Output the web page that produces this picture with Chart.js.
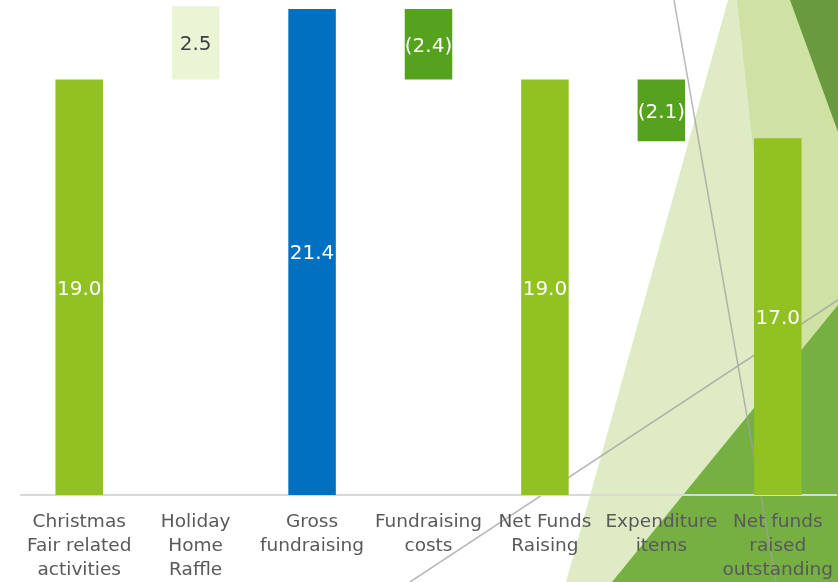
<!DOCTYPE html>
<html>
<head>
<meta charset="utf-8">
<script src="https://cdn.jsdelivr.net/npm/chart.js@4.4.1/dist/chart.umd.min.js"></script>
<style>
  html, body { margin: 0; padding: 0; background: #ffffff; }
  #wrap { width: 838px; height: 582px; }
</style>
</head>
<body>
<div id="wrap"><canvas id="myChart" width="838" height="582"></canvas></div>
<script>
// chart data
const categories = [
  ['Christmas', 'Fair related', 'activities'],
  ['Holiday', 'Home', 'Raffle'],
  ['Gross', 'fundraising'],
  ['Fundraising', 'costs'],
  ['Net Funds', 'Raising'],
  ['Expenditure', 'items'],
  ['Net funds', 'raised', 'outstanding']
];
const values = [19.0, 2.5, 21.4, -2.4, 19.0, -2.1, 17.0];
const barType = ['total', 'increase', 'total', 'decrease', 'total', 'decrease', 'total'];
const valueLabels = ['19.0', '2.5', '21.4', '(2.4)', '19.0', '(2.1)', '17.0'];

const Y_MIN = 4.86;
const Y_MAX = 21.71;

// colours per bar (gross total is blue)
const barColors = ['#92C122', '#EAF5D6', '#0070C0', '#55A21F', '#92C122', '#55A21F', '#92C122'];
const labelColors = ['#ffffff', '#404040', '#ffffff', '#ffffff', '#ffffff', '#ffffff', '#ffffff'];

// build floating ranges from the running total
let running = 0;
const ranges = values.map((v, i) => {
  if (barType[i] === 'total') {
    running = v;
    return [Y_MIN, v];
  }
  const start = running;
  running = running + v;
  return [Math.min(start, running), Math.max(start, running)];
});

// background slide decoration (theme triangles + thin lines)
const slideDecor = {
  id: 'slideDecor',
  beforeDraw(chart) {
    const ctx = chart.ctx;
    const poly = (pts, color) => {
      ctx.beginPath();
      ctx.moveTo(pts[0][0], pts[0][1]);
      for (let i = 1; i < pts.length; i++) ctx.lineTo(pts[i][0], pts[i][1]);
      ctx.closePath();
      ctx.fillStyle = color;
      ctx.fill();
    };
    ctx.save();
    poly([[728, 0], [838, 0], [838, 582], [566, 582]], '#DEEBC5');
    poly([[737, 0], [838, 0], [838, 582], [800, 582]], '#D0E2A3');
    poly([[790, 0], [838, 0], [838, 132]], '#6A9A40');
    poly([[838, 305], [838, 582], [612, 582]], '#76B043');
    ctx.strokeStyle = 'rgba(160,160,160,0.75)';
    ctx.lineWidth = 1.5;
    ctx.beginPath();
    ctx.moveTo(674, 0); ctx.lineTo(776, 582);
    ctx.moveTo(410, 582); ctx.lineTo(838, 300);
    ctx.stroke();
    ctx.restore();
  }
};

// value labels in the middle of each bar
const barLabels = {
  id: 'barLabels',
  afterDatasetsDraw(chart) {
    const ctx = chart.ctx;
    const meta = chart.getDatasetMeta(0);
    ctx.save();
    ctx.font = '20px "DejaVu Sans"';
    ctx.textAlign = 'center';
    ctx.textBaseline = 'middle';
    meta.data.forEach((bar, i) => {
      const top = Math.max(bar.y, chart.chartArea.top);
      const bottom = Math.min(bar.base, chart.chartArea.bottom);
      ctx.fillStyle = labelColors[i];
      ctx.fillText(valueLabels[i], bar.x, (top + bottom) / 2 + 2);
    });
    ctx.restore();
  }
};

const ctx = document.getElementById('myChart').getContext('2d');
const myChart = new Chart(ctx, {
  type: 'bar',
  data: {
    labels: categories,
    datasets: [{
      data: ranges,
      backgroundColor: barColors,
      borderWidth: 0,
      barPercentage: 0.51,
      categoryPercentage: 0.8
    }]
  },
  options: {
    responsive: false,
    devicePixelRatio: 1,
    animation: false,
    layout: { padding: { left: 21, right: 2, top: 0, bottom: 0 } },
    plugins: {
      legend: { display: false },
      tooltip: { enabled: false },
      title: { display: false }
    },
    scales: {
      y: {
        display: false,
        min: Y_MIN,
        max: Y_MAX
      },
      x: {
        grid: { display: false, drawTicks: false },
        border: { display: true, color: '#D9D9D9', width: 2 },
        ticks: {
          color: '#595959',
          font: { family: '"DejaVu Sans"', size: 18.5, lineHeight: 1.3 },
          padding: 15,
          maxRotation: 0,
          autoSkip: false
        },
        afterFit(scale) {
          scale.height = 87;
          scale.paddingLeft = 0;
          scale.paddingRight = 0;
        }
      }
    }
  },
  plugins: [slideDecor, barLabels]
});
</script>
</body>
</html>
